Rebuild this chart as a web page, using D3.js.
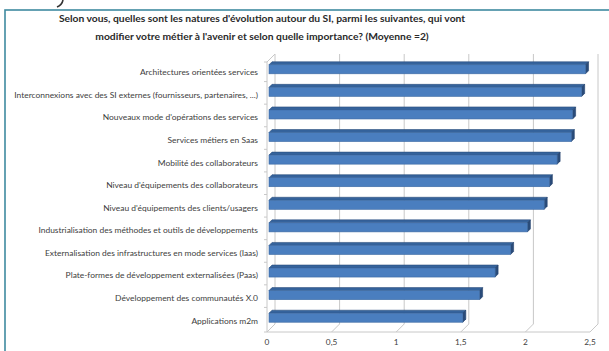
<!DOCTYPE html>
<html><head><meta charset="utf-8">
<script src="https://cdn.jsdelivr.net/npm/d3@7"></script>
<style>html,body{margin:0;padding:0;background:#fff;}svg{display:block;}</style>
</head><body>
<svg id="c" width="609" height="351"></svg>
<script>
const titleLines = ["Selon vous, quelles sont les natures d'évolution autour du SI, parmi les suivantes, qui vont",
  "modifier votre métier à l'avenir et selon quelle importance? (Moyenne =2)"];
const categories = [
  "Architectures orientées services",
  "Interconnexions avec des SI externes (fournisseurs, partenaires, ...)",
  "Nouveaux mode d'opérations des services",
  "Services métiers en Saas",
  "Mobilité des collaborateurs",
  "Niveau d'équipements des collaborateurs",
  "Niveau d'équipements des clients/usagers",
  "Industrialisation des méthodes et outils de développements",
  "Externalisation des infrastructures en mode services (Iaas)",
  "Plate-formes de développement externalisées (Paas)",
  "Développement des communautés X.0",
  "Applications m2m"
];
const values = [2.45, 2.42, 2.35, 2.34, 2.23, 2.17, 2.13, 2.00, 1.87, 1.75, 1.63, 1.50];
const tickValues = [0, 0.5, 1, 1.5, 2, 2.5];
const tickLabels = ["0", "0,5", "1", "1,5", "2", "2,5"];

const svg = d3.select("#c");
// frame
svg.append("rect").attr("x",5).attr("y",10).attr("width",640).attr("height",400)
  .attr("fill","none").attr("stroke","#3f8aa0").attr("stroke-width",1.6);
// small stray mark at top
svg.append("path").attr("d","M63,0 Q62,5 57,7").attr("fill","none").attr("stroke","#333").attr("stroke-width",1.6);

// title
svg.append("g").selectAll("text").data(titleLines).join("text")
  .attr("x",262).attr("y",(d,i)=>22+i*17.5)
  .attr("text-anchor","middle")
  .attr("font-family","Lato, 'Liberation Sans', sans-serif")
  .attr("font-weight","bold").attr("font-size",10.3).attr("fill","#2a2a2a")
  .text(d=>d);

const x = d3.scaleLinear().domain([0,2.5]).range([267,590]);
const y = d3.scaleBand().domain(categories).range([59,330]).paddingInner(0.6).paddingOuter(0.3);
const dx = 8, dy = -8;
const yFloor = 332, yTop = 62;

const grid = svg.append("g").attr("stroke","#c8c8c8").attr("stroke-width",1).attr("fill","none");
grid.selectAll("line.g").data(tickValues).join("line")
  .attr("x1",d=>x(d)+dx).attr("x2",d=>x(d)+dx)
  .attr("y1",yTop+dy).attr("y2",yFloor+dy);
grid.selectAll("line.d").data(tickValues).join("line")
  .attr("x1",d=>x(d)).attr("x2",d=>x(d)+dx)
  .attr("y1",yFloor).attr("y2",yFloor+dy);
grid.append("line").attr("x1",x(0)).attr("x2",x(2.5)).attr("y1",yFloor).attr("y2",yFloor);
grid.append("line").attr("x1",x(0)).attr("x2",x(0)).attr("y1",yTop).attr("y2",yFloor);
grid.append("line").attr("x1",x(0)).attr("x2",x(0)+dx).attr("y1",yTop).attr("y2",yTop+dy);
const bounds = d3.range(categories.length+1).map(i=> i===0 ? yTop : (i===categories.length ? yFloor : (y(categories[i-1])+y.bandwidth()+y(categories[i]))/2));
grid.selectAll("line.t").data(bounds).join("line")
  .attr("x1",x(0)-3).attr("x2",x(0)).attr("y1",d=>d).attr("y2",d=>d);

// bars
const bd = 3;
const bx = 2, by = -1;
const bars = svg.append("g");
categories.forEach((c,i)=>{
  const x0 = x(0)+bx, x1 = x(values[i])+bx;
  const y0 = y(c)+by, h = y.bandwidth();
  bars.append("path").attr("d",`M${x0},${y0} L${x0+bd},${y0-bd} L${x1+bd},${y0-bd} L${x1},${y0} Z`)
    .attr("fill","#35639c").attr("stroke","#2b4f7d").attr("stroke-width",0.6);
  bars.append("path").attr("d",`M${x1},${y0} L${x1+bd},${y0-bd} L${x1+bd},${y0+h-bd} L${x1},${y0+h} Z`)
    .attr("fill","#2a4c7a").attr("stroke","#24426b").attr("stroke-width",0.6);
  bars.append("rect").attr("x",x0).attr("y",y0).attr("width",x1-x0).attr("height",h)
    .attr("fill","#4a7ebf").attr("stroke","#3d6aa3").attr("stroke-width",0.6);
});

// category labels
svg.append("g").selectAll("text").data(categories).join("text")
  .attr("x",258).attr("y",d=>y(d)+y.bandwidth()/2+2)
  .attr("dy","0.35em").attr("text-anchor","end")
  .attr("font-family","Lato, 'Liberation Sans', sans-serif")
  .attr("font-size",8.45).attr("fill","#404040")
  .text(d=>d);

// x tick labels
svg.append("g").selectAll("text").data(tickValues).join("text")
  .attr("x",d=>x(d)).attr("y",345)
  .attr("text-anchor","middle")
  .attr("font-family","Lato, 'Liberation Sans', sans-serif")
  .attr("font-size",8.3).attr("fill","#404040")
  .text((d,i)=>tickLabels[i]);
</script>
</body></html>
